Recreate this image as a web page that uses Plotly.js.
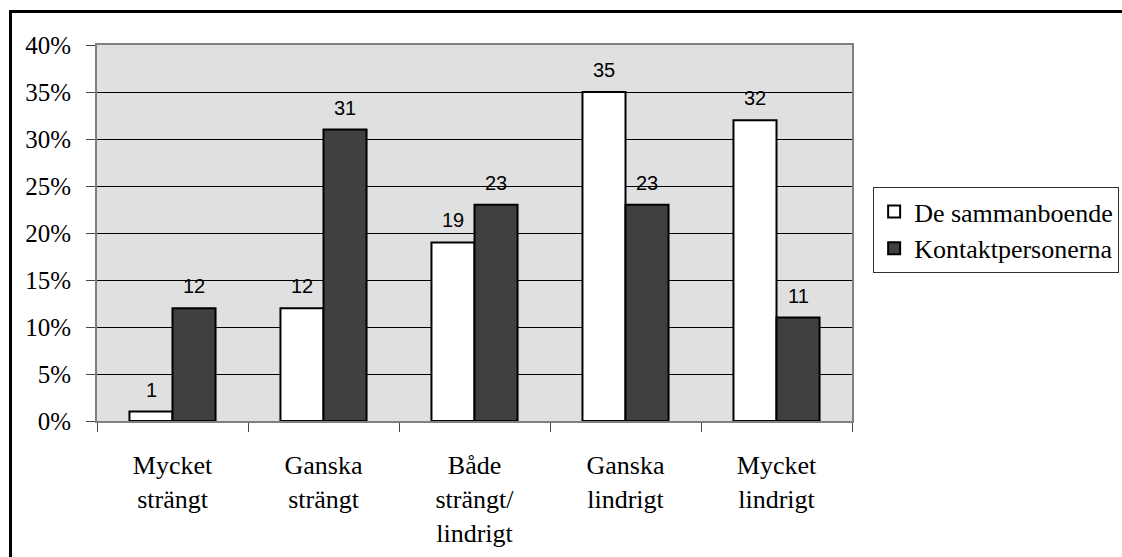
<!DOCTYPE html>
<html>
<head>
<meta charset="utf-8">
<script src="https://cdn.plot.ly/plotly-3.0.1.min.js"></script>
<style>
  html, body { margin: 0; padding: 0; background: #ffffff; overflow: hidden; }
  #chart { width: 1122px; height: 557px; }
  #frame { position: absolute; left: 9px; top: 10px; width: 1300px; height: 700px;
           border: 3px solid #000; pointer-events: none; }
</style>
</head>
<body>
<div id="chart"></div>
<div id="frame"></div>
<script>
const categories = ["Mycket<br>strängt", "Ganska<br>strängt", "Både<br>strängt/<br>lindrigt", "Ganska<br>lindrigt", "Mycket<br>lindrigt"];
const sammanboende = [1, 12, 19, 35, 32];
const kontaktpersoner = [12, 31, 23, 23, 11];
const seriesNames = ["De sammanboende", "Kontaktpersonerna"];
const yTickVals = [0, 5, 10, 15, 20, 25, 30, 35, 40];
const yTickText = ["0%", "5%", "10%", "15%", "20%", "25%", "30%", "35%", "40%"];

const serif = "Liberation Serif, Times New Roman, serif";
const sans = "Liberation Sans, Arial, sans-serif";

const traces = [
  { type: "bar", name: seriesNames[0], x: categories, y: sammanboende,
    marker: { color: "#ffffff", line: { color: "#000000", width: 2 } } },
  { type: "bar", name: seriesNames[1], x: categories, y: kontaktpersoner,
    marker: { color: "#404040", line: { color: "#000000", width: 2 } } }
];

const annotations = [];
[sammanboende, kontaktpersoner].forEach((vals, si) => {
  vals.forEach((v, i) => {
    annotations.push({
      x: categories[i], y: v, xref: "x", yref: "y",
      text: String(v), showarrow: false,
      xshift: si === 0 ? -21.5 : 21.5, yshift: 9,
      yanchor: "bottom", xanchor: "center",
      font: { family: sans, size: 20, color: "#000" }
    });
  });
});

const layout = {
  width: 1122, height: 557,
  margin: { l: 97, r: 270, t: 45, b: 136, autoexpand: false },
  paper_bgcolor: "#ffffff",
  plot_bgcolor: "#e0e0e0",
  font: { family: serif },
  barmode: "group",
  bargap: 0.43,
  bargroupgap: 0,
  showlegend: true,
  legend: {
    x: 1.028, xanchor: "left", y: 0.622, yanchor: "top",
    bgcolor: "#ffffff", bordercolor: "#333333", borderwidth: 1,
    font: { family: serif, size: 26, color: "#000" },
    itemwidth: 30, tracegroupgap: 0
  },
  xaxis: {
    type: "category",
    tickson: "boundaries",
    ticks: "outside", ticklen: 9, tickcolor: "#444", tickwidth: 1,
    showline: true, linecolor: "#808080", linewidth: 2, mirror: true,
    showgrid: false,
    tickfont: { family: serif, size: 26, color: "#000" },
    ticklabelstandoff: 20
  },
  yaxis: {
    range: [0, 40],
    tickmode: "array",
    tickvals: yTickVals,
    ticktext: yTickText,
    ticks: "outside", ticklen: 9, tickcolor: "#444", tickwidth: 1,
    showline: true, linecolor: "#808080", linewidth: 2, mirror: true,
    showgrid: true, gridcolor: "#000000", gridwidth: 1,
    zeroline: false,
    tickfont: { family: serif, size: 25, color: "#000" },
    ticklabelstandoff: 10
  },
  annotations: annotations
};

Plotly.newPlot("chart", traces, layout, { displayModeBar: false, staticPlot: true });
</script>
</body>
</html>
